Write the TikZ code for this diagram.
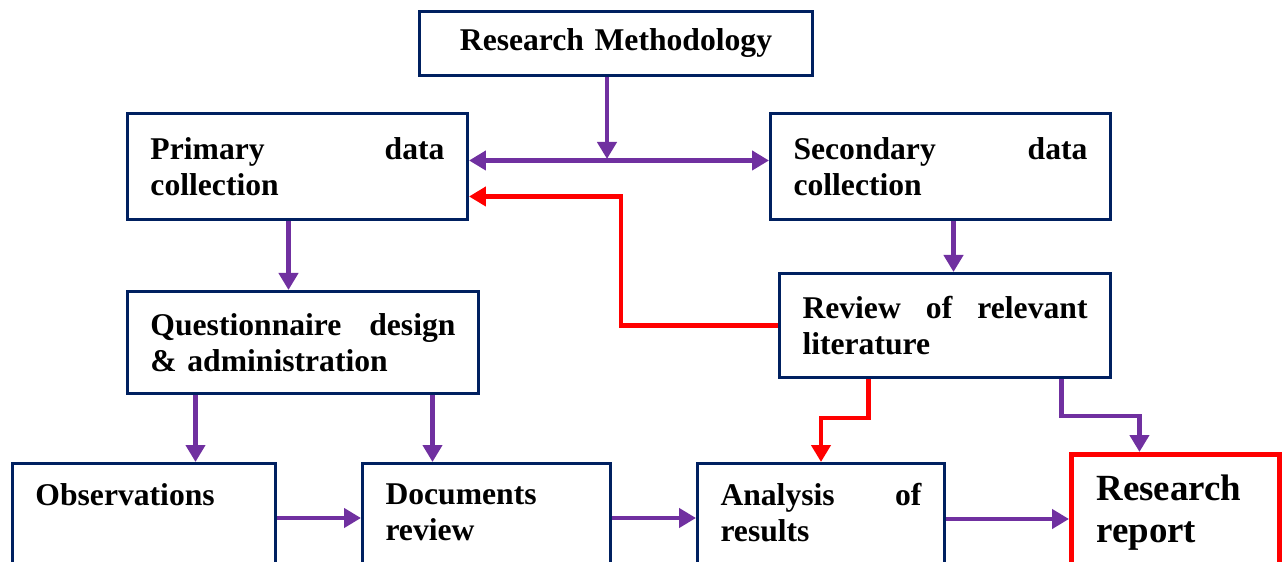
\documentclass[tikz,border=0pt]{standalone}
\usepackage{fontspec}
\setmainfont{Liberation Serif}
\usetikzlibrary{arrows.meta, positioning}
\definecolor{boxnavy}{HTML}{002060}
\definecolor{flowpurple}{HTML}{7030A0}
\definecolor{loopred}{HTML}{FF0000}

\begin{document}
\begin{tikzpicture}
    \tikzstyle{stage}     = [rectangle, draw=boxnavy, line width=1.7pt, anchor=north west, align=left, inner xsep=0.46cm, font=\bfseries\fontsize{18}{20.5}\selectfont]
    \tikzstyle{openstage} = [stage, inner ysep=0.4cm, text depth=2cm]
    \tikzstyle{reportbox} = [openstage, draw=loopred, line width=2.8pt, inner xsep=0.5cm, font=\bfseries\fontsize{21}{24}\selectfont]
    \tikzstyle{arrow}     = [color=flowpurple, line width=2.5pt, ->, >={Triangle[length=0.34cm, width=0.38cm]}]
    \tikzstyle{redarrow}  = [arrow, color=loopred]

    \useasboundingbox (0,0) rectangle (25.64,-11.24);

    % Methodology
    \node [stage, align=center, text width=6.94cm, minimum height=1.28cm] (method) at (8.36,-0.20) {Research Methodology};

    % Data collection
    \node [stage, text width=5.88cm, minimum height=2.12cm] (primary)   at (2.52,-2.24)  {Primary \hfill data\\collection};
    \node [stage, text width=5.88cm, minimum height=2.12cm] (secondary) at (15.38,-2.24) {Secondary \hfill data\\collection};

    % Instruments and literature
    \node [stage, text width=6.10cm, minimum height=2.04cm] (questionnaire) at (2.52,-5.80)  {Questionnaire \hfill design\\\& administration};
    \node [stage, text width=5.70cm, minimum height=2.08cm] (literature)    at (15.56,-5.44) {Review \hfill of \hfill relevant\\literature};

    % Bottom row
    \node [openstage, text width=4.34cm] (observe)   at (0.22,-9.24)  {Observations};
    \node [openstage, text width=4.04cm] (documents) at (7.22,-9.24)  {Documents\\review};
    \node [openstage, text width=4.02cm] (analysis)  at (13.92,-9.24) {Analysis \hfill of\\results};
    \node [reportbox, text width=3.16cm] (report)    at (21.38,-9.04) {Research\\report};

    % Arrows
    \coordinate (split) at (12.14,-3.18);
    \draw [arrow] (method.south -| split) -- (split);
    \draw [arrow, <->] ([yshift=0.12cm]primary.east) -- ([yshift=0.12cm]secondary.west);
    \draw [arrow] ([xshift=-0.18cm]primary.south) -- ([xshift=-0.18cm]primary.south |- questionnaire.north);
    \draw [arrow] ([xshift=0.26cm]secondary.south) -- ([xshift=0.26cm]secondary.south |- literature.north);
    \draw [arrow] ([xshift=-2.15cm]questionnaire.south) -- ([xshift=-2.15cm]questionnaire.south |- observe.north);
    \draw [arrow] ([xshift=2.59cm]questionnaire.south) -- ([xshift=2.59cm]questionnaire.south |- documents.north);
    \draw [arrow] ([yshift=-1.12cm]observe.north east) -- ([yshift=-1.12cm]observe.north east -| documents.west);
    \draw [arrow] ([yshift=-1.12cm]documents.north east) -- ([yshift=-1.12cm]documents.north east -| analysis.west);
    \draw [arrow] ([yshift=-1.14cm]analysis.north east) -- ([yshift=-1.14cm]analysis.north east -| report.west);
    \draw [arrow] ([xshift=2.33cm]literature.south) -- ++(0,-0.74) -| ([xshift=-0.72cm]report.north);

    % Feedback
    \draw [redarrow] (literature.west) -- ++(-3.14,0) |- ([yshift=-0.6cm]primary.east);
    \draw [redarrow] ([xshift=-1.53cm]literature.south) -- ++(0,-0.78) -| (analysis.north);

\end{tikzpicture}
\end{document}
